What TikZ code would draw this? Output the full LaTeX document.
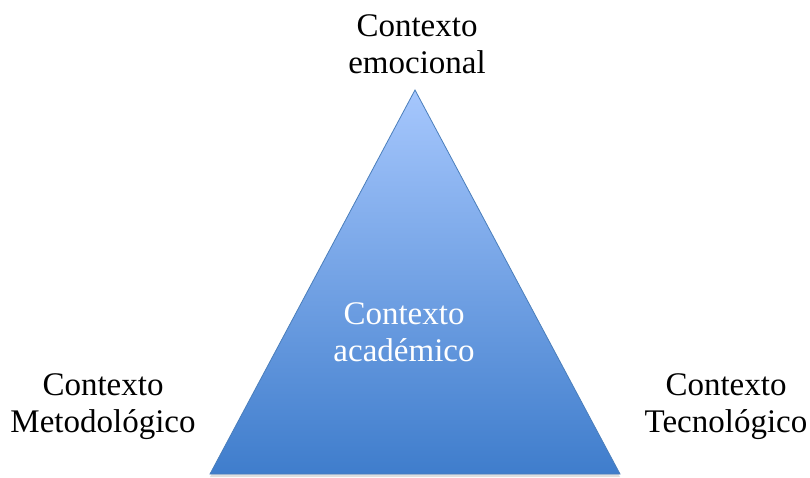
\documentclass[tikz,border=0pt]{standalone}
\usepackage{fontspec}
\setmainfont{Liberation Serif}
\usetikzlibrary{positioning, calc}
\definecolor{pyrtop}{HTML}{A6C7FD}
\definecolor{pyrbot}{HTML}{3F7DCC}
\definecolor{pyredge}{HTML}{4A7EBB}
\tikzstyle{ctx} = [align=center, font=\fontsize{24.75}{27.75}\selectfont, inner sep=0pt]
\tikzstyle{inner} = [ctx, text=white]

\begin{document}
\begin{tikzpicture}[x=0.75pt, y=-0.75pt]
\useasboundingbox (0,0) rectangle (810,478);

\coordinate (apex) at (415,90);
\coordinate (bl) at (210,474);
\coordinate (br) at (620,474);

% shadow + pyramid
\fill[black!25, opacity=0.5] ($(apex)+(0,3)$) -- ($(bl)+(0,3)$) -- ($(br)+(0,3)$) -- cycle;
\shade[top color=pyrtop, bottom color=pyrbot, draw=pyredge, line width=0.6pt] (apex) -- (bl) -- (br) -- cycle;

\node (emo) at (417,44) [ctx] {Contexto\\emocional};
\node (met) at (103,407) [ctx] {Contexto\\Metodológico};
\node (tec) at (726,407) [ctx] {Contexto\\Tecnológico};
\node (aca) at (404,332) [inner] {Contexto\\académico};

\end{tikzpicture}
\end{document}
